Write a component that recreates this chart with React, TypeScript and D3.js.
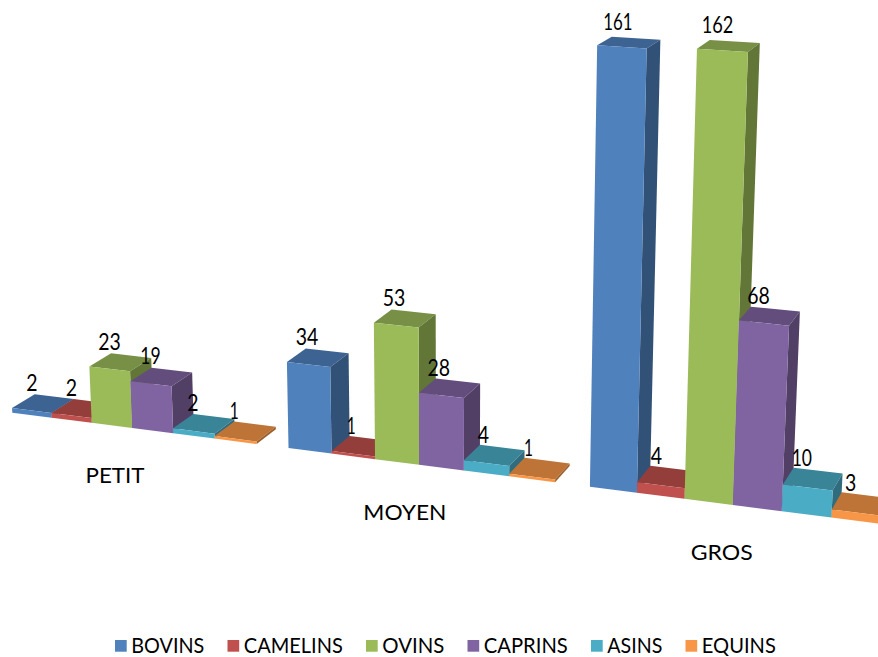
import React from "react";
import * as d3 from "d3";

// Herd counts per farm size, one array per species
const categories = ["PETIT", "MOYEN", "GROS"];
const seriesNames = ["BOVINS", "CAMELINS", "OVINS", "CAPRINS", "ASINS", "EQUINS"];
const bovins = [2, 34, 161];
const camelins = [2, 1, 4];
const ovins = [23, 53, 162];
const caprins = [19, 28, 68];
const asins = [2, 4, 10];
const equins = [1, 1, 3];
const seriesValues = [bovins, camelins, ovins, caprins, asins, equins];
const seriesColors = ["#4F81BD", "#C0504D", "#9BBB59", "#8064A2", "#4BACC6", "#F79646"];

const WIDTH = 878;
const HEIGHT = 657;
const FONT = "'Lato', 'Open Sans', sans-serif";

// Horizontal layout in bar units: six bars per group, three quarters of a bar between groups
const catScale = d3.scaleBand<string>().domain(categories).range([0, 19.5]).paddingInner(0.75 / 6.75);
const serScale = d3.scaleBand<string>().domain(seriesNames).range([0, 6]);

// Perspective camera: u along the floor, v up the value axis, w into the depth of a bar
const E = -0.0002806;
const F = 0.0172;
function project(u: number, v: number, w: number): [number, number] {
  const d = 1 - 0.00618 * u + E * v + F * w;
  const px = 39.14 * u + 12.3 + 450 * E * v + 1350 * F * w;
  const py = 2.47 * u + 412.7 + 9000 * E * v - 400 * F * w;
  return [px / d, py / d];
}

const polygon = d3.line<[number, number]>().curve(d3.curveLinearClosed);

function shade(color: string, k: number): string {
  const c = d3.rgb(color);
  return d3.rgb(c.r * k, c.g * k, c.b * k).formatHex();
}

function Bar({ u0, u1, value, color }: { u0: number; u1: number; value: number; color: string }) {
  const top = polygon([project(u0, value, 0), project(u1, value, 0), project(u1, value, 1), project(u0, value, 1)]);
  const side = polygon([project(u1, 0, 0), project(u1, value, 0), project(u1, value, 1), project(u1, 0, 1)]);
  const front = polygon([project(u0, 0, 0), project(u1, 0, 0), project(u1, value, 0), project(u0, value, 0)]);
  return (
    <g>
      <path d={top!} fill={shade(color, 0.77)} />
      <path d={side!} fill={shade(color, 0.63)} />
      <path d={front!} fill={color} />
    </g>
  );
}

// Value labels run narrow: a stick-like "1" takes less room than the other digits
function labelWidth(value: number): number {
  return d3.sum(String(value).split(""), (ch) => (ch === "1" ? 9 : 11.3));
}

// Text widths set each label's run and the spacing to the next legend swatch
const categoryTextWidths = [59, 83, 62];
const legendTextWidths = [73, 99, 62, 84, 55, 74];
const legendStart = 115;
const swatch = 11.7;

export default function App() {
  const step = serScale.bandwidth();
  let legendX = legendStart;
  return (
    <svg
      width={WIDTH}
      height={HEIGHT}
      style={{ position: "absolute", left: 0, top: 0, background: "#fff" }}
      fontFamily={FONT}
    >
      {categories.map((cat, ci) => (
        <g key={cat}>
          {seriesNames.map((name, si) => {
            const u0 = catScale(cat)! + serScale(name)!;
            return <Bar key={name} u0={u0} u1={u0 + step} value={seriesValues[si][ci]} color={seriesColors[si]} />;
          })}
        </g>
      ))}
      {categories.map((cat, ci) =>
        seriesNames.map((name, si) => {
          const u0 = catScale(cat)! + serScale(name)!;
          const value = seriesValues[si][ci];
          const [x, y] = project(u0 + step / 2, value, 0.5);
          return (
            <text
              key={cat + name}
              x={x - 11}
              y={y - 12.5}
              fontSize={24}
              textAnchor="middle"
              textLength={labelWidth(value)}
              lengthAdjust="spacingAndGlyphs"
              fill="#000"
            >
              {value}
            </text>
          );
        })
      )}
      {categories.map((cat, ci) => {
        const [x, y] = project(catScale(cat)! + catScale.bandwidth() / 2, 0, 0);
        return (
          <text
            key={cat}
            x={x - 18.5 + 0.01 * x}
            y={y + 55}
            fontSize={21.5}
            textAnchor="middle"
            textLength={categoryTextWidths[ci]}
            lengthAdjust="spacingAndGlyphs"
            fill="#000"
          >
            {cat}
          </text>
        );
      })}
      {seriesNames.map((name, si) => {
        const x = legendX;
        legendX += swatch + 5 + legendTextWidths[si] + 22.8;
        return (
          <g key={name}>
            <rect x={x} y={640} width={swatch} height={swatch} fill={seriesColors[si]} />
            <text
              x={x + 16.3}
              y={653.3}
              fontSize={21}
              textLength={legendTextWidths[si]}
              lengthAdjust="spacingAndGlyphs"
              fill="#000"
            >
              {name}
            </text>
          </g>
        );
      })}
    </svg>
  );
}
